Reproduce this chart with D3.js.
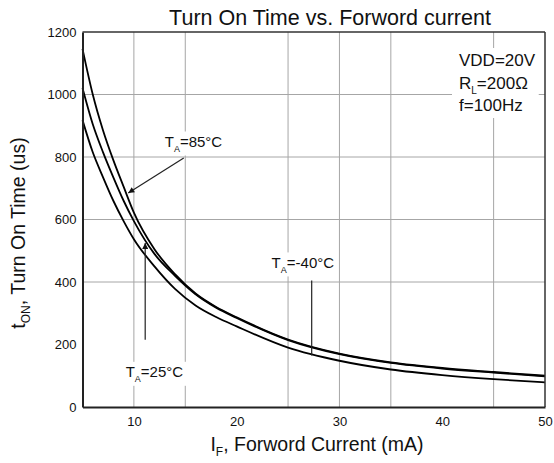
<!DOCTYPE html>
<html>
<head>
<meta charset="utf-8">
<script src="https://cdn.jsdelivr.net/npm/d3@7"></script>
<style>
  html, body { margin: 0; padding: 0; background: #fff; }
  svg { display: block; }
  text { font-family: "Liberation Sans", Arial, sans-serif; fill: #111; }
</style>
</head>
<body>
<svg id="chart" width="554" height="463"></svg>
<script>
// ---- data ----
const currentMA = [5, 6, 7, 8, 9, 10, 12, 14, 16, 18, 20, 25, 30, 35, 40, 45, 50];
const tOn85  = [1146, 1000, 885, 790, 705, 622, 505, 425, 363, 320, 287, 216, 171, 143, 125, 112, 100];
const tOn25  = [1021, 905, 815, 735, 660, 595, 490, 420, 361, 318, 285, 214, 169, 141, 123, 110, 98];
const tOnM40 = [918, 815, 735, 660, 595, 537, 450, 378, 325, 288, 258, 190, 148, 120, 102, 89, 79];

const xTicks = [10, 20, 30, 40, 50];
const yTicks = [0, 200, 400, 600, 800, 1000, 1200];
const gridX = [10, 15, 25, 30, 35, 45];
const gridY = [400, 600, 800, 1000];

const titleText = "Turn On Time vs. Forword current";
const conditions = ["VDD=20V", "R|L|=200Ω", "f=100Hz"];

// annotation arrows in data units: [current, time]
const arrow85  = { from: [14.85, 797], to: [9.45, 685], head: true };
const arrow25  = { from: [11.1, 215], to: [11.1, 525], head: true };
const arrowM40 = { from: [27.3, 405], to: [27.3, 165], head: false };
const tempLabels = [
  { main: "T", sub: "A", rest: "=85°C",  at: [13.0, 832] },
  { main: "T", sub: "A", rest: "=25°C",  at: [9.2, 95] },
  { main: "T", sub: "A", rest: "=-40°C", at: [23.4, 445] }
];

// ---- layout ----
const svg = d3.select("#chart");
const pL = 82.5, pR = 545, pT = 32, pB = 407;
const x = d3.scaleLinear().domain([5, 50]).range([pL, pR]);
const y = d3.scaleLinear().domain([0, 1200]).range([pB, pT]);

// grid
const grid = svg.append("g");
grid.selectAll("line.gx").data(gridX).join("line")
  .attr("x1", d => x(d)).attr("x2", d => x(d))
  .attr("y1", pT).attr("y2", pB)
  .attr("stroke", "#a6a6a6").attr("stroke-width", 1);
grid.selectAll("line.gy").data(gridY).join("line")
  .attr("x1", pL).attr("x2", pR)
  .attr("y1", d => y(d)).attr("y2", d => y(d))
  .attr("stroke", "#a6a6a6").attr("stroke-width", 1);

// label layer (white boxes hide grid)
const boxLayer = svg.append("g");
const textLayer = svg.append("g");

function addBox(node, pad) {
  const b = node.getBBox();
  boxLayer.append("rect")
    .attr("x", b.x - pad).attr("y", b.y - pad / 2)
    .attr("width", b.width + 2 * pad).attr("height", b.height + pad)
    .attr("fill", "#fff");
}

// temperature labels
tempLabels.forEach(l => {
  const t = textLayer.append("text")
    .attr("x", x(l.at[0])).attr("y", y(l.at[1]))
    .attr("font-size", 15);
  t.append("tspan").text(l.main);
  t.append("tspan").attr("dy", 5).attr("font-size", 9).text(l.sub);
  t.append("tspan").attr("dy", -5).text(l.rest);
  addBox(t.node(), 3);
});

// conditions block
const condG = textLayer.append("g");
conditions.forEach((c, i) => {
  const t = condG.append("text")
    .attr("x", 459).attr("y", 66 + i * 22.5)
    .attr("font-size", 17);
  const parts = c.split("|");
  if (parts.length === 3) {
    t.append("tspan").text(parts[0]);
    t.append("tspan").attr("dy", 5).attr("font-size", 10).text(parts[1]);
    t.append("tspan").attr("dy", -5).text(parts[2]);
  } else {
    t.text(c);
  }
});
(function () {
  const b = condG.node().getBBox();
  boxLayer.append("rect")
    .attr("x", b.x - 7).attr("y", b.y - 3)
    .attr("width", b.width + 10).attr("height", b.height + 6)
    .attr("fill", "#fff");
})();

// curves
const line = d3.line()
  .x((d, i) => x(currentMA[i]))
  .y(d => y(d))
  .curve(d3.curveMonotoneX);
[tOn85, tOn25, tOnM40].forEach(s => {
  svg.append("path")
    .attr("d", line(s))
    .attr("fill", "none")
    .attr("stroke", "#000")
    .attr("stroke-width", 1.8);
});

// arrows
svg.append("defs").append("marker")
  .attr("id", "ah").attr("viewBox", "0 0 10 10")
  .attr("refX", 10).attr("refY", 5)
  .attr("markerWidth", 7).attr("markerHeight", 6)
  .attr("markerUnits", "userSpaceOnUse")
  .attr("orient", "auto")
  .append("path").attr("d", "M0,0 L10,5 L0,10 z").attr("fill", "#111");

[arrow85, arrow25, arrowM40].forEach(a => {
  const l = svg.append("line")
    .attr("x1", x(a.from[0])).attr("y1", y(a.from[1]))
    .attr("x2", x(a.to[0])).attr("y2", y(a.to[1]))
    .attr("stroke", "#222").attr("stroke-width", 1.2);
  if (a.head) l.attr("marker-end", "url(#ah)");
});

// frame
svg.append("line").attr("x1", pL).attr("x2", pR).attr("y1", pT).attr("y2", pT)
  .attr("stroke", "#333").attr("stroke-width", 1.5);
svg.append("line").attr("x1", pR).attr("x2", pR).attr("y1", pT).attr("y2", pB)
  .attr("stroke", "#333").attr("stroke-width", 1.5);

// axes via d3
const xAxis = d3.axisBottom(x).tickValues(xTicks).tickSize(0).tickPadding(10)
  .tickFormat(d3.format("d"));
const gx = svg.append("g").attr("transform", `translate(0,${pB})`).call(xAxis);
gx.select(".domain").attr("stroke", "#222").attr("stroke-width", 2);
gx.selectAll("text").attr("font-size", 13).attr("fill", "#111")
  .style("font-family", "'Liberation Sans', Arial, sans-serif");

const yAxis = d3.axisLeft(y).tickValues(yTicks).tickSize(0).tickPadding(6)
  .tickFormat(d3.format("d"));
const gy = svg.append("g").attr("transform", `translate(${pL},0)`).call(yAxis);
gy.select(".domain").attr("stroke", "#222").attr("stroke-width", 2);
gy.selectAll("text").attr("font-size", 13).attr("fill", "#111")
  .style("font-family", "'Liberation Sans', Arial, sans-serif");

// title
svg.append("text").attr("x", 330).attr("y", 25)
  .attr("text-anchor", "middle").attr("font-size", 21.5)
  .text(titleText);

// x-axis title
const xt = svg.append("text").attr("x", 317).attr("y", 451)
  .attr("text-anchor", "middle").attr("font-size", 19.5);
xt.append("tspan").text("I");
xt.append("tspan").attr("dy", 5).attr("font-size", 12).text("F");
xt.append("tspan").attr("dy", -5).text(", Forword Current (mA)");

// y-axis title
const yt = svg.append("text")
  .attr("transform", `translate(25,233) rotate(-90)`)
  .attr("text-anchor", "middle").attr("font-size", 19.5);
yt.append("tspan").text("t");
yt.append("tspan").attr("dy", 5).attr("font-size", 12).text("ON");
yt.append("tspan").attr("dy", -5).text(", Turn On Time (us)");
</script>
</body>
</html>
